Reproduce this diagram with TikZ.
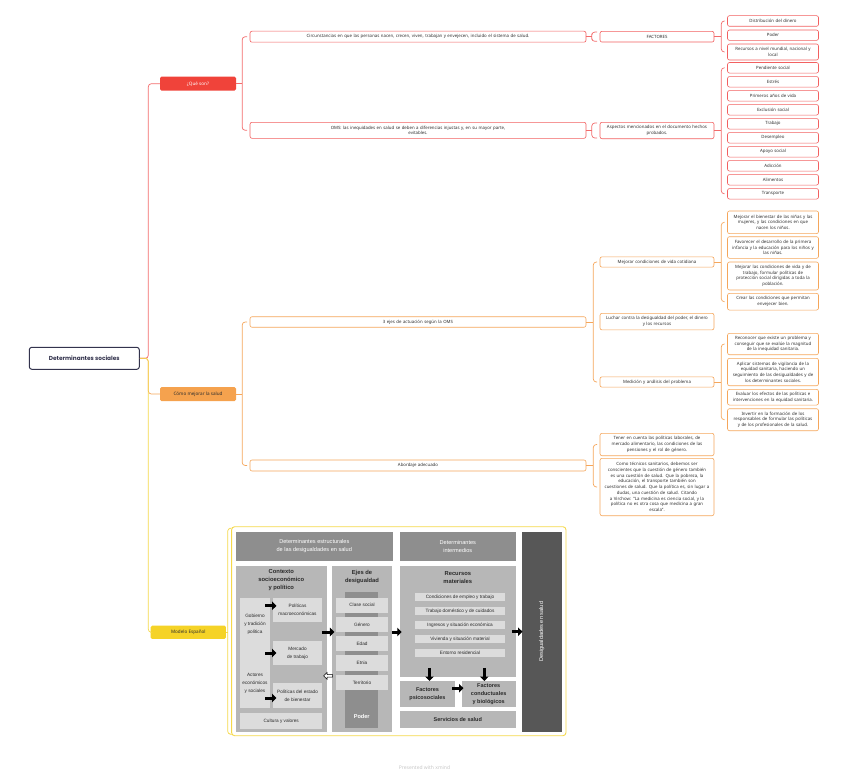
\documentclass[tikz,border=0pt]{standalone}
\usepackage{fontspec}
\setmainfont{Noto Sans}
\newfontfamily\figfont{Liberation Sans}
\newfontfamily\rootfont{Poppins}
\usepackage{xcolor}
\usepackage{tikz}
\usetikzlibrary{calc}
\usetikzlibrary{arrows.meta,shapes.arrows}

\definecolor{rootc}{HTML}{33334D}
\definecolor{txtc}{HTML}{2E2E2E}
\definecolor{redf}{HTML}{F0433A}
\definecolor{redc}{HTML}{F26060}
\definecolor{redl}{HTML}{F26B6B}
\definecolor{oraf}{HTML}{F5A24E}
\definecolor{orac}{HTML}{F5A65B}
\definecolor{yelf}{HTML}{F5D327}
\definecolor{yell}{HTML}{F5D84A}
\definecolor{figdk}{HTML}{8E8E8E}
\definecolor{figmd}{HTML}{B7B7B7}
\definecolor{figlt}{HTML}{DCDCDC}
\definecolor{figbar}{HTML}{575757}
\definecolor{figtx}{HTML}{2A2A2A}

\begin{document}
\begin{tikzpicture}[x=1pt,y=-1pt,
	mm/.style={font=\fontsize{4.35}{5.7}\selectfont, text=txtc, align=center, inner xsep=1pt, inner ysep=0.5pt, rounded corners=2pt, line width=0.6pt, fill=white},
	rbox/.style={mm, draw=redc},
	obox/.style={mm, draw=orac},
	col2/.style={minimum width=336pt, text width=332pt},
	col3/.style={minimum width=114pt, text width=112pt},
	col4/.style={minimum width=91pt, text width=89pt},
	topic/.style={font=\fontsize{4.6}{5}\selectfont, minimum width=76pt, minimum height=14pt, rounded corners=1.5pt, inner sep=0pt},
	rline/.style={draw=redl, line width=0.7pt, rounded corners=3pt},
	oline/.style={draw=orac, line width=0.7pt, rounded corners=3pt},
	yline/.style={draw=yell, line width=0.7pt, rounded corners=3pt},
	fbox/.style={font=\figfont\fontsize{4.7}{8}\selectfont, fill=figlt, text=figtx, align=center, inner sep=0pt},
	ftitle/.style={font=\figfont\bfseries\fontsize{5.8}{8.2}\selectfont, text=figtx, align=center, inner sep=0pt},
	blk/.style={line width=3pt, -{Triangle[length=4.5pt,width=8.5pt]}},
	]
	\useasboundingbox (0,0) rectangle (848,776);

	% main topic and branches
	\node[draw=rootc, line width=1pt, rounded corners=2.5pt, minimum width=110pt, minimum height=22pt, font=\rootfont\bfseries\fontsize{5.8}{7}\selectfont, text=rootc] (root) at (84.3,358.3) {Determinantes sociales};
	\node[topic, fill=redf, text=white] (que) at (198,83.7) {¿Qué son?};
	\node[topic, fill=oraf, text=txtc] (como) at (198,394) {Cómo mejorar la salud};
	\node[topic, fill=yelf, text=txtc, minimum width=75.3pt, minimum height=13.3pt] (modelo) at (188.3,632.3) {Modelo Español};

	\draw[rline] (root.east) -- ++(8.5,0) |- (que.west);
	\draw[oline] (root.east) -- ++(8.5,0) |- (como.west);
	\draw[yline] (root.east) -- ++(8.5,0) |- (modelo.west);

	% que son
	\node[rbox,col2,minimum height=11pt] (circ) at (418,36.7) {Circunstancias en que las personas nacen, crecen, viven, trabajan y envejecen, incluido el sistema de salud.};
	\node[rbox,col2,minimum height=16pt] (oms) at (418,130.3) {OMS: las inequidades en salud se deben a diferencias injustas y, en su mayor parte,\\evitables.};
	\node[rbox,col3,minimum height=10.7pt] (fact) at (657,36.7) {FACTORES};
	\node[rbox,col3,minimum height=16.4pt] (asp) at (657,130.5) {Aspectos mencionados en el documento hechos\\probados.};
	\node[rbox,col4,minimum height=10.6pt] (dist) at (773,21) {Distribución del dinero};
	\node[rbox,col4,minimum height=10.3pt] (poder) at (773,35.2) {Poder};
	\node[rbox,col4,minimum height=16pt] (recur) at (773,52) {Recursos a nivel mundial, nacional y\\local};
	\foreach \lbl [count=\i from 0] in {Pendiente social,Estrés,Primeros años de vida,Exclusión social,Trabajo,Desempleo,Apoyo social,Adicción,Alimentos,Transporte}
		\node[rbox,col4,minimum height=10.5pt] (apt\i) at (773,{67.8+14*\i}) {\lbl};

	\draw[rline] ($(circ.west)+(-2.5,0)$) -| ($(que.east)+(6,0)$) |- ($(oms.west)+(-2.5,0)$);
	\draw[rline] (que.east) -- ++(6,0);
	\draw[rline] ($(fact.north west)+(-2.5,1)$) -| ($(circ.east)+(5.5,0)$) |- ($(fact.south west)+(-2.5,-1)$);
	\draw[rline] (circ.east) -- ++(5.5,0);
	\draw[rline] ($(asp.north west)+(-2.5,1)$) -| ($(oms.east)+(5.5,0)$) |- ($(asp.south west)+(-2.5,-1)$);
	\draw[rline] (oms.east) -- ++(5.5,0);
	\draw[rline] ($(dist.west)+(-2.7,0)$) -| ($(fact.east)+(7,0)$) |- ($(recur.west)+(-2.7,0)$);
	\draw[rline] (fact.east) -- ++(7,0);
	\draw[rline] ($(apt0.west)+(-2.7,0)$) -| ($(asp.east)+(7,0)$) |- ($(apt9.west)+(-2.7,0)$);
	\draw[rline] (asp.east) -- ++(7,0);

	% como mejorar
	\node[obox,col2,minimum height=10.5pt] (ejes) at (418,322) {3 ejes de actuación según la OMS};
	\node[obox,col2,minimum height=11pt] (abord) at (418,465.5) {Abordaje adecuado};
	\node[obox,col3,minimum height=10.3pt] (vida) at (657,262) {Mejorar condiciones de vida cotidiana};
	\node[obox,col3,minimum height=16.6pt] (luchar) at (657,321.6) {Luchar contra la desigualdad del poder, el dinero\\y los recursos};
	\node[obox,col3,minimum height=10.3pt] (medic) at (657,382) {Medición y análisis del problema};
	\node[obox,col3,minimum height=22.4pt] (tener) at (657,444.5) {Tener en cuenta las políticas laborales, de\\mercado alimentario, las condiciones de las\\pensiones y el rol de género.};
	\node[obox,col3,minimum height=57.4pt] (tecn) at (657,487) {Como técnicos sanitarios, debemos ser\\conscientes que la cuestión de género también\\es una cuestión de salud. Que la pobreza, la\\educación, el transporte también son\\cuestiones de salud. Que la política es, sin lugar a\\dudas, una cuestión de salud. Citando\\a Virchow: "La medicina es ciencia social, y la\\política no es otra cosa que medicina a gran\\escala".};

	\node[obox,col4,minimum height=22.7pt] (nin) at (773,222.3) {Mejorar el bienestar de las niñas y las\\mujeres, y las condiciones en que\\nacen los niños.};
	\node[obox,col4,minimum height=21.6pt] (inf) at (773,247.5) {Favorecer el desarrollo de la primera\\infancia y la educación para los niños y\\las niñas.};
	\node[obox,col4,minimum height=28pt] (trab) at (773,276) {Mejorar las condiciones de vida y de\\trabajo, formular políticas de\\protección social dirigidas a toda la\\población.};
	\node[obox,col4,minimum height=16.7pt] (env) at (773,301.7) {Crear las condiciones que permitan\\envejecer bien.};

	\node[obox,col4,minimum height=21.4pt] (recon) at (773,344) {Reconocer que existe un problema y\\conseguir que se evalúe la magnitud\\de la inequidad sanitaria.};
	\node[obox,col4,minimum height=27.4pt] (vigil) at (773,372) {Aplicar sistemas de vigilancia de la\\equidad sanitaria, haciendo un\\seguimiento de las desigualdades y de\\los determinantes sociales.};
	\node[obox,col4,minimum height=15.7pt] (eval) at (773,397.2) {Evaluar los efectos de las políticas e\\intervenciones en la equidad sanitaria.};
	\node[obox,col4,minimum height=22pt] (form) at (773,419.7) {Invertir en la formación de los\\responsables de formular las políticas\\y de los profesionales de la salud.};

	\draw[oline] ($(ejes.west)+(-2.5,0)$) -| ($(como.east)+(6,0)$) |- ($(abord.west)+(-2.5,0)$);
	\draw[oline] (como.east) -- ++(6,0);
	\draw[oline] ($(vida.west)+(-2.5,0)$) -| ($(ejes.east)+(7,0)$) |- ($(medic.west)+(-2.5,0)$);
	\draw[oline] (ejes.east) -- ++(7,0);
	\draw[oline] ($(tener.west)+(-2.5,0)$) -| ($(abord.east)+(7,0)$) |- ($(tecn.west)+(-2.5,0)$);
	\draw[oline] (abord.east) -- ++(7,0);
	\draw[oline] ($(nin.west)+(-2.7,0)$) -| ($(vida.east)+(7,0)$) |- ($(env.west)+(-2.7,0)$);
	\draw[oline] (vida.east) -- ++(7,0);
	\draw[oline] ($(recon.west)+(-2.7,0)$) -| ($(medic.east)+(7,0)$) |- ($(form.west)+(-2.7,0)$);
	\draw[oline] (medic.east) -- ++(7,0);

	% modelo espanol
	\node[draw=yell, line width=0.9pt, rounded corners=3pt, minimum width=334.3pt, minimum height=209pt, inner sep=0pt] (fig) at (398.8,631.2) {};
	\draw[yline] ($(fig.north west)+(-1.5,2)$) -| ($(modelo.east)+(1.5,0)$) |- ($(fig.south west)+(-1.5,-2)$);
	\draw[yline] (modelo.east) -- ++(1.5,0);

	\node[fbox, fill=figdk, text=white, font=\figfont\fontsize{5.6}{8.2}\selectfont, minimum width=156.7pt, minimum height=29pt] (hdra) at (314.3,546.2) {Determinantes estructurales\\de las desigualdades en salud};
	\node[fbox, fill=figdk, text=white, font=\figfont\fontsize{5.6}{8.2}\selectfont, minimum width=115.7pt, minimum height=29pt] (hdrb) at (457.8,546.2) {Determinantes\\intermedios};
	\node[fbox, fill=figbar, minimum width=40pt, minimum height=200pt] (desig) at (541.7,631.7) {};
	\node[rotate=90, text=white, font=\figfont\fontsize{5.6}{7}\selectfont] (desigt) at (desig.center) {Desigualdades en salud};

	% contexto
	\node[fbox, fill=figmd, minimum width=90.7pt, minimum height=166pt] (ctx) at (281.3,648.7) {};
	\node[ftitle] (ctxt) at (281.3,580) {Contexto\\socioeconómico\\y político};
	\node[fbox, minimum width=30pt, minimum height=110pt] (gob) at (255,653) {};
	\node[fbox, fill=none] (gobt) at (255,624.5) {Gobierno\\y tradición\\política};
	\node[fbox, fill=none] (actt) at (255,683) {Actores\\económicos\\y sociales};
	\node[fbox, minimum width=49.6pt, minimum height=23.7pt] (polmac) at (297.5,609.8) {Políticas\\macroeconómicas};
	\node[fbox, minimum width=49.6pt, minimum height=24pt] (merc) at (297.5,653) {Mercado\\de trabajo};
	\node[fbox, minimum width=49.6pt, minimum height=25.3pt] (bien) at (297.5,695.3) {Políticas del estado\\de bienestar};
	\node[fbox, minimum width=82.3pt, minimum height=16pt] (cult) at (281.2,721.3) {Cultura y valores};
	\draw[blk] ($(gob.east |- polmac.west)+(-5,-4)$) -- ($(polmac.west)+(4,-4)$);
	\draw[blk] ($(gob.east |- merc.west)+(-5,0)$) -- ($(merc.west)+(4,0)$);
	\draw[blk] ($(gob.east |- bien.west)+(-5,2.7)$) -- ($(bien.west)+(4,2.7)$);

	% ejes de desigualdad
	\node[fbox, fill=figmd, minimum width=60.7pt, minimum height=166pt] (ejcol) at (362,648.7) {};
	\node[ftitle] (ejt) at (362,577) {Ejes de\\desigualdad};
	\node[fbox, fill=figdk, minimum width=33.3pt, minimum height=136.6pt] (pod) at (361.7,660) {};
	\node[ftitle, text=white, font=\figfont\bfseries\fontsize{5.6}{7}\selectfont] (podt) at (361.7,716.5) {Poder};
	\foreach \lbl/\nm [count=\i from 0] in {Clase social/cs,Género/gen,Edad/edad,Etnia/etnia,Territorio/terr}
		\node[fbox, minimum width=52pt, minimum height=15.3pt] (\nm) at (362,{605.2+19.3*\i}) {\lbl};
	\draw[blk] ($(ctx.east)+(-5,-16.7)$) -- ($(ejcol.west)+(3,-16.7)$);
	\node[single arrow, draw=black, line width=0.5pt, fill=white, minimum height=9pt, minimum width=7pt, single arrow head extend=1.5pt, inner sep=0.6pt, shape border rotate=180] (back) at ($(ejcol.west |- terr)+(-2.7,-6.5)$) {};

	% determinantes intermedios
	\node[fbox, fill=figmd, minimum width=115.7pt, minimum height=111pt] (rec) at (457.8,621.2) {};
	\node[ftitle] (rect) at (457.8,577.7) {Recursos\\materiales};
	\foreach \lbl/\nm [count=\i from 0] in {Condiciones de empleo y trabajo/r1,Trabajo doméstico y de cuidados/r2,Ingresos y situación económica/r3,Vivienda y situación material/r4,Entorno residencial/r5}
		\node[fbox, minimum width=90pt, minimum height=8.3pt] (\nm) at (460,{596.8+14.05*\i}) {\lbl};
	\node[fbox, fill=figmd, font=\figfont\bfseries\fontsize{5.5}{8}\selectfont, minimum width=55pt, minimum height=26pt] (psic) at (427.5,693.7) {Factores\\psicosociales};
	\node[fbox, fill=figmd, font=\figfont\bfseries\fontsize{5.5}{8}\selectfont, minimum width=54pt, minimum height=26pt] (cond) at (488.7,693.7) {Factores\\conductuales\\y biológicos};
	\node[fbox, fill=figmd, font=\figfont\bfseries\fontsize{5.5}{7}\selectfont, minimum width=115.7pt, minimum height=17.3pt] (serv) at (457.8,719.7) {Servicios de salud};
	\draw[blk] ($(rec.west |- ejcol.east)+(-8,-16.7)$) -- ($(rec.west |- ejcol.east)+(2,-16.7)$);
	\draw[blk] ($(rec.east)+(-4,10.5)$) -- ($(desig.west)+(1,0)$);
	\draw[blk] ($(rec.south -| psic.north)+(2,-9)$) -- ($(psic.north)+(2,0.5)$);
	\draw[blk] ($(rec.south -| cond.north)+(-4.4,-9)$) -- ($(cond.north)+(-4.4,0.5)$);
	\draw[blk] ($(psic.east)+(-3,-5.5)$) -- ($(cond.west)+(2,-5.5)$);

	\node[font=\fontsize{5}{6}\selectfont, text=black!22] (credit) at (424.5,768) {Presented with \textbf{xmind}};
\end{tikzpicture}
\end{document}
